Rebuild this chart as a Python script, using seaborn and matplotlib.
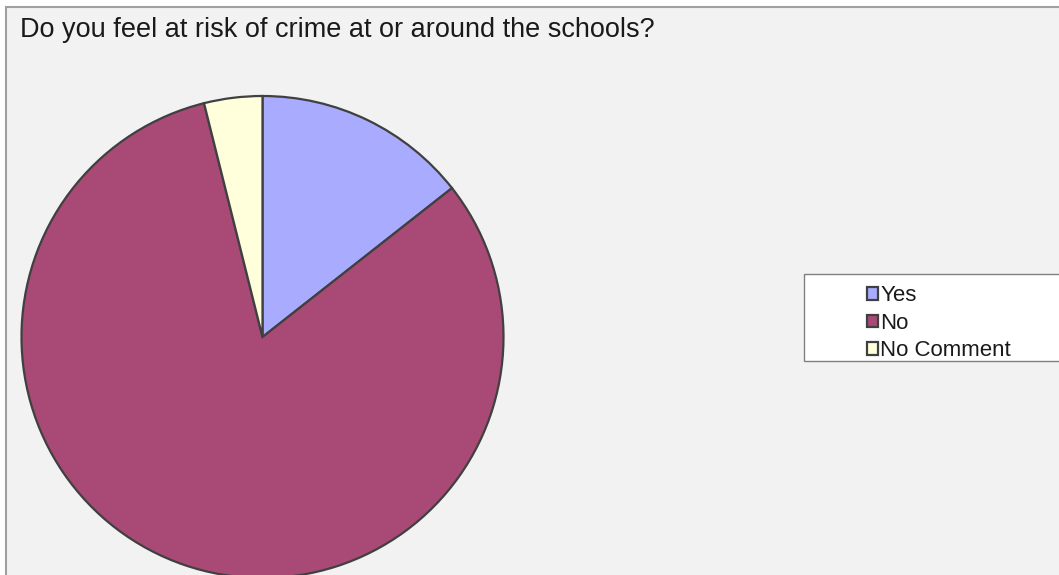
import matplotlib
matplotlib.use('Agg')
import matplotlib.pyplot as plt
from matplotlib.patches import Rectangle, Patch
import seaborn as sns

# Data (percent of respondents)
labels = ['Yes', 'No', 'No Comment']
shares = [14.4, 81.7, 3.9]
colors = ['#a9abff', '#a84a75', '#ffffdb']

title = 'Do you feel at risk of crime at or around the schools?'

sns.set_style('white')
plt.rcParams['font.family'] = ['Liberation Sans', 'DejaVu Sans']

W, H = 1059, 575
fig = plt.figure(figsize=(W / 100, H / 100), dpi=100, facecolor='white')

# chart area background with grey frame on top/left
fig.patches.append(Rectangle((6 / W, -0.01), 1.02, 1 - 7 / H + 0.01,
                             transform=fig.transFigure, facecolor='#f2f2f2',
                             edgecolor='#a0a0a0', linewidth=1.5, zorder=-5))

fig.text(20 / W, 1 - 30 / H, title, fontsize=19.5, color='#1a1a1a',
         va='center', ha='left')

# pie axes placed so center ~ (262, 337), radius ~241 px
cx, cy, r = 262.5, 337, 241
ax = fig.add_axes([(cx - r) / W, (H - cy - r) / H, 2 * r / W, 2 * r / H])
ax.set_zorder(3)
ax.patch.set_visible(False)
wedges, _ = ax.pie(shares, colors=colors, startangle=90, counterclock=False,
                   radius=1, wedgeprops=dict(edgecolor='#404040', linewidth=1.6))
for w in wedges:
    w.set_clip_on(False)
ax.set_xlim(-1, 1)
ax.set_ylim(-1, 1)
ax.set_aspect('equal')
ax.axis('off')

# legend box (runs off right edge)
fig.patches.append(Rectangle((804 / W, 1 - 361 / H), 0.3, 87 / H,
                             transform=fig.transFigure, facecolor='white',
                             edgecolor='#808080', linewidth=1.0, zorder=1))
handles = [Patch(facecolor=c, edgecolor='#404040', linewidth=1.6) for c in colors]
leg = fig.legend(handles, labels, loc='upper left',
                 bbox_to_anchor=(856 / W, 1 - 274 / H), frameon=False,
                 fontsize=16, handlelength=0.5, handleheight=0.5,
                 handletextpad=0.1, labelspacing=0.3, borderpad=0,
                 labelcolor='#1a1a1a')
leg.set_zorder(4)

fig.savefig('out.png', dpi=100, facecolor='white')
plt.close(fig)
